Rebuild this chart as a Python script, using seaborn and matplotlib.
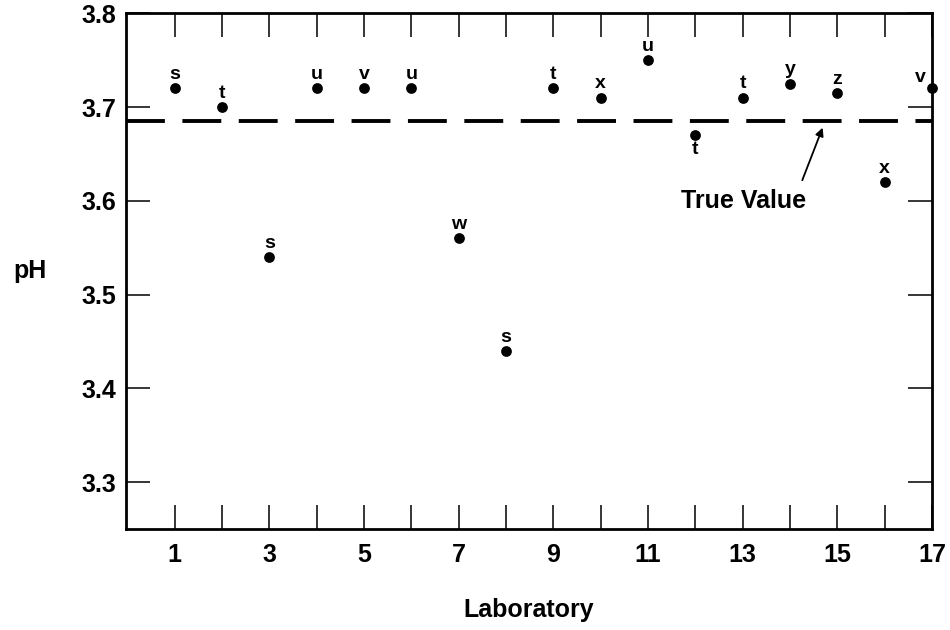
import numpy as np
import pandas as pd
import matplotlib
matplotlib.use("Agg")
import matplotlib.pyplot as plt
import seaborn as sns

# data
labs = list(range(1, 18))
ph = [3.72, 3.70, 3.54, 3.72, 3.72, 3.72, 3.56, 3.44, 3.72,
      3.71, 3.75, 3.67, 3.71, 3.725, 3.715, 3.62, 3.72]
codes = ["s", "t", "s", "u", "v", "u", "w", "s", "t",
         "x", "u", "t", "t", "y", "z", "x", "v"]
true_value = 3.685

df = pd.DataFrame({"Laboratory": labs, "pH": ph, "code": codes})

sns.set_style("ticks")
plt.rcParams['font.family'] = ['Liberation Sans', 'DejaVu Sans']
plt.rcParams['font.weight'] = 'bold'
plt.rcParams['text.color'] = 'black'
plt.rcParams['xtick.color'] = 'black'
plt.rcParams['ytick.color'] = 'black'
plt.rcParams['axes.labelcolor'] = 'black'

fig = plt.figure(figsize=(9.5, 6.3), dpi=100)
ax = fig.add_axes([0.1326, 0.160, 0.8484, 0.819])

sns.scatterplot(data=df, x="Laboratory", y="pH", ax=ax, color="black",
                s=60, edgecolor="black", linewidth=0, zorder=3, clip_on=False)

ax.axhline(true_value, color="black", lw=2.8, dashes=(10, 4.5), zorder=2)

# letter codes next to each point
for lab, val, c in zip(labs, ph, codes):
    if lab == 12:
        off = (0, -10)
    elif lab == 17:
        off = (-8, 8)
    else:
        off = (0, 10)
    ax.annotate(c, (lab, val), xytext=off, textcoords="offset points",
                ha="center", va="center", fontsize=14, fontweight="bold")

ax.text(13.03, 3.600, "True Value", ha="center", va="center",
        fontsize=18, fontweight="bold")
ax.annotate("", xy=(14.69, 3.678), xytext=(14.26, 3.622),
            arrowprops=dict(arrowstyle="-|>", color="black", lw=1.3,
                            shrinkA=0, shrinkB=0, mutation_scale=12))

ax.set_xlim(-0.03, 17)
ax.set_ylim(3.25, 3.8)
ax.set_xticks(range(1, 17), minor=True)
ax.set_xticks(range(1, 18, 2))
ax.set_yticks([3.3, 3.4, 3.5, 3.6, 3.7, 3.8])
ax.set_yticklabels(["3.3", "3.4", "3.5", "3.6", "3.7", "3.8"])

ax.tick_params(axis="both", which="both", direction="in", length=17, width=1.1,
               top=True, right=True, labelsize=18, colors="black")
ax.tick_params(axis="x", which="major", pad=10)
ax.tick_params(axis="y", pad=7)
for lbl in ax.get_xticklabels() + ax.get_yticklabels():
    lbl.set_fontweight("bold")

for sp in ax.spines.values():
    sp.set_linewidth(2)
    sp.set_color("black")
    sp.set_visible(True)

ax.set_xlabel("Laboratory", fontsize=18, fontweight="bold", labelpad=22)
ax.set_ylabel("pH", fontsize=18, fontweight="bold", rotation=0)
ax.yaxis.set_label_coords(-0.119, 0.5)
ax.yaxis.label.set_va("center")

fig.savefig("out.png", dpi=100)
